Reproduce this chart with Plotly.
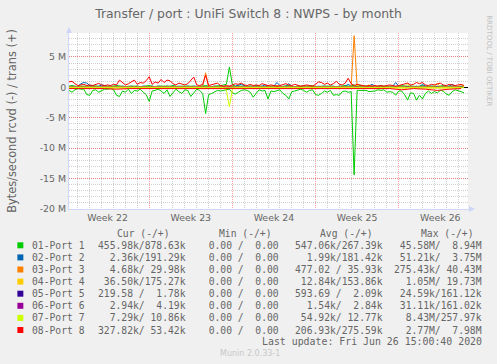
import plotly.graph_objects as go
import pandas as pd

# ---------------- data (values in millions of bytes/second) ----------------
ports = ["01-Port 1", "02-Port 2", "03-Port 3", "04-Port 4",
         "05-Port 5", "06-Port 6", "07-Port 7", "08-Port 8"]
colors = ["#00CC00", "#0066B3", "#FF8000", "#FFCC00",
          "#330099", "#990099", "#CCFF00", "#FF0000"]

# 6-hour samples
t6 = pd.date_range("2020-05-25 06:00", periods=134, freq="6h")
# daily samples (for the near-zero series)
td = pd.date_range("2020-05-25 06:00", periods=34, freq="1D")

p1_rcvd = [0.5, 0.8, 0.4, 0.2, 0.3, 0.3, 1.2, 1.3, 0.5, 0.4,
           0.8, 0.6, 0.3, 0.3, 0.2, 0.4, 1.3, 1.5, 0.6, 0.8,
           0.3, 1.0, 0.5, 0.6, 0.3, 0.8, 1.2, 2.3, 0.6, 0.5,
           0.3, 0.6, 1.0, 0.4, 1.5, 0.9, 0.3, 0.7, 1.0, 0.4,
           0.5, 1.5, 0.9, 0.3, 0.5, 1.0, 4.3, 1.2, 1.0, 0.8,
           0.5, 0.6, 0.5, 0.4, 0.3, 0.9, 1.1, 0.8, 0.5, 0.4,
           0.5, 0.8, 1.6, 1.0, 0.4, 0.6, 0.5, 1.9, 0.6, 0.7,
           0.6, 0.4, 1.0, 1.3, 1.9, 0.7, 0.6, 0.5, 0.3, 0.5,
           0.8, 0.5, 0.4, 1.2, 1.3, 1.0, 0.6, 0.8, 0.5, 1.3,
           1.2, 1.3, 0.7, 0.6, 0.8, 0.7, 14.4, 0.5, 0.5, 0.6,
           0.5, 0.7, 0.7, 0.6, 0.4, 0.5, 0.4, 0.8, 0.7, 0.8,
           1.3, 0.6, 0.6, 1.2, 2.1, 0.9, 1.0, 2.1, 1.3, 1.9,
           1.0, 0.6, 1.0, 0.7, 0.9, 0.5, 0.6, 1.1, 1.3, 0.7,
           0.4, 0.5, 0.7, 0.9]
p1_trans = [0.2, 0.3, 0.2, 0.1, 0.2, 0.2, 0.1, 0.2, 0.3, 0.2,
            0.2, 0.1, 0.2, 0.2, 0.1, 0.2, 0.3, 0.2, 0.2, 0.1,
            0.2, 0.2, 0.3, 0.2, 0.1, 0.2, 0.2, 0.3, 0.2, 0.1,
            0.2, 0.2, 0.1, 0.2, 0.2, 0.3, 0.2, 0.1, 0.2, 0.2,
            0.2, 0.3, 0.2, 0.1, 0.2, 0.2, 0.3, 0.2, 0.1, 0.2,
            0.2, 0.3, 0.4, 0.5, 3.35, 0.4, 0.2, 0.2, 0.1, 0.2,
            0.2, 0.1, 0.2, 0.3, 0.2, 0.2, 0.1, 0.2, 0.2, 0.3,
            0.2, 0.1, 0.2, 0.2, 0.3, 0.2, 0.1, 0.2, 0.2, 0.1,
            0.2, 0.3, 0.2, 0.2, 0.1, 0.2, 0.2, 0.3, 0.2, 0.2,
            0.1, 0.2, 0.2, 0.3, 0.2, 0.2, 0.4, 0.2, 0.3, 0.2,
            0.2, 0.3, 0.2, 0.1, 0.2, 0.3, 0.2, 0.2, 0.3, 0.2,
            0.1, 0.2, 0.3, 0.2, 0.2, 0.3, 0.2, 0.1, 0.2, 0.3,
            0.2, 0.2, 0.3, 0.2, 0.1, 0.2, 0.3, 0.2, 0.2, 0.3,
            0.2, 0.1, 0.2, 0.2]
p2_trans = [0.1, 0.2, 0.1, 0.2, 0.6, 0.8, 0.7, 0.3, 0.2, 0.1,
            0.2, 0.4, 0.3, 0.1, 0.2, 0.1, 0.2, 0.1, 0.2, 0.1,
            0.1, 0.2, 0.1, 0.2, 0.1, 0.2, 0.1, 0.1, 0.2, 0.1,
            0.2, 0.1, 0.1, 0.2, 0.1, 0.2, 0.1, 0.2, 0.1, 0.1,
            0.2, 0.1, 0.2, 0.1, 0.1, 0.2, 0.1, 0.2, 0.1, 0.2,
            0.1, 0.2, 0.1, 0.1, 0.2, 0.1, 0.2, 0.3, 0.5, 0.3,
            0.1, 0.2, 0.1, 0.2, 0.1, 0.2, 0.4, 0.2, 0.1, 0.2,
            0.8, 0.3, 0.1, 0.2, 0.6, 0.2, 0.1, 0.2, 0.1, 0.2,
            0.1, 0.2, 0.1, 0.1, 0.2, 0.1, 0.2, 0.1, 0.2, 0.1,
            0.1, 0.2, 0.1, 0.2, 0.5, 0.2, 0.1, 0.2, 0.1, 0.2,
            0.1, 0.2, 0.5, 0.2, 0.1, 0.2, 0.1, 0.2, 0.1, 0.2,
            0.8, 0.2, 0.1, 0.2, 0.1, 0.2, 0.1, 0.2, 0.1, 0.5,
            0.2, 0.1, 0.2, 0.1, 0.2, 0.1, 0.2, 0.1, 0.2, 0.5,
            0.2, 0.1, 0.2, 0.1]
p3_trans = [0.05, 0.05, 0.05, 0.05, 0.05, 0.05, 0.05, 0.05, 0.05, 0.05,
            0.05, 0.05, 0.05, 0.05, 0.05, 0.05, 0.05, 0.05, 0.05, 0.05,
            0.05, 0.05, 0.05, 0.05, 0.05, 0.05, 0.05, 0.05, 0.05, 0.05,
            0.05, 0.05, 0.05, 0.05, 0.05, 0.05, 0.05, 0.05, 0.05, 0.05,
            0.05, 0.05, 0.05, 0.05, 0.05, 0.1, 2.4, 0.1, 0.05, 0.05,
            0.05, 0.05, 0.05, 0.05, 0.05, 0.05, 0.05, 0.05, 0.05, 0.05,
            0.05, 0.05, 0.05, 0.05, 0.05, 0.05, 0.05, 0.05, 0.05, 0.05,
            0.05, 0.05, 0.05, 0.05, 0.05, 0.05, 0.05, 0.05, 0.05, 0.05,
            0.05, 0.05, 0.05, 0.05, 0.05, 0.05, 0.05, 0.05, 0.05, 0.05,
            0.05, 0.05, 0.05, 0.05, 0.05, 0.1, 8.5, 0.1, 0.05, 0.05,
            0.05, 0.05, 0.05, 0.05, 0.05, 0.05, 0.05, 0.05, 0.05, 0.05,
            0.05, 0.05, 0.05, 0.05, 0.05, 0.05, 0.05, 0.05, 0.05, 0.05,
            0.05, 0.05, 0.05, 0.05, 0.05, 0.05, 0.05, 0.05, 0.05, 0.05,
            0.05, 0.05, 0.05, 0.05]
p4_trans = [0.1, 0.1, 0.1, 0.1, 0.1, 0.1, 0.1, 0.1, 0.1, 0.1,
            0.1, 0.1, 0.1, 0.1, 0.1, 0.1, 0.1, 0.1, 0.1, 0.1,
            0.1, 0.1, 0.1, 0.1, 0.1, 0.1, 0.1, 0.1, 0.1, 0.1,
            0.1, 0.1, 0.1, 0.1, 0.1, 0.1, 0.1, 0.1, 0.1, 0.1,
            0.1, 0.1, 0.1, 0.1, 0.1, 0.1, 0.1, 0.1, 0.1, 0.1,
            0.1, 0.1, 0.1, 0.1, 0.1, 0.1, 0.1, 0.1, 0.1, 0.1,
            0.1, 0.1, 0.1, 0.1, 0.1, 0.1, 0.1, 0.1, 0.1, 0.1,
            0.3, 0.1, 0.1, 0.1, 0.1, 0.1, 0.1, 0.1, 0.1, 0.1,
            0.1, 0.1, 0.1, 0.1, 0.1, 0.1, 0.1, 0.1, 0.1, 0.1,
            0.1, 0.1, 0.1, 0.1, 0.1, 0.1, 0.1, 0.4, 0.1, 0.1,
            0.1, 0.4, 0.1, 0.1, 0.1, 0.1, 0.1, 0.1, 0.1, 0.1,
            0.1, 0.1, 0.1, 0.1, 0.6, 0.1, 0.1, 0.1, 0.1, 0.1,
            0.1, 0.1, 0.1, 0.1, 0.7, 0.1, 0.1, 0.1, 0.1, 0.1,
            0.1, 0.1, 0.5, 0.1]
p7_rcvd = [0.05, 0.05, 0.05, 0.05, 0.05, 0.05, 0.05, 0.05, 0.05, 0.05,
           0.05, 0.05, 0.05, 0.05, 0.05, 0.05, 0.05, 0.05, 0.05, 0.05,
           0.05, 0.05, 0.05, 0.05, 0.05, 0.05, 0.05, 0.05, 0.05, 0.05,
           0.05, 0.05, 0.05, 0.05, 0.05, 0.05, 0.05, 0.05, 0.05, 0.05,
           0.05, 0.05, 0.05, 0.05, 0.05, 0.05, 0.05, 0.05, 0.05, 0.05,
           0.05, 0.05, 0.05, 0.5, 3.2, 0.3, 0.05, 0.05, 0.05, 0.05,
           0.05, 0.05, 0.05, 0.05, 0.05, 0.05, 0.05, 0.05, 0.05, 0.05,
           0.05, 0.05, 0.05, 0.05, 0.05, 0.05, 0.05, 0.05, 0.05, 0.05,
           0.05, 0.05, 0.05, 0.05, 0.05, 0.05, 0.05, 0.05, 0.05, 0.05,
           0.05, 0.05, 0.05, 0.05, 0.05, 0.05, 0.05, 0.05, 0.05, 0.05,
           0.05, 0.05, 0.05, 0.05, 0.05, 0.05, 0.05, 0.05, 0.05, 0.05,
           0.05, 0.05, 0.05, 0.05, 0.05, 0.05, 0.05, 0.05, 0.05, 0.05,
           0.05, 0.05, 0.05, 0.05, 0.05, 0.05, 0.05, 0.05, 0.05, 0.05,
           0.05, 0.05, 0.05, 0.05]
p8_trans = [0.9, 1.0, 0.6, 0.3, 0.4, 0.5, 0.3, 0.4, 0.3, 0.5,
            0.65, 0.4, 0.3, 0.4, 0.3, 0.5, 0.4, 1.2, 0.8, 0.4,
            0.6, 0.9, 1.2, 0.5, 0.8, 0.7, 1.1, 1.75, 0.5, 0.9,
            0.7, 1.3, 0.8, 1.2, 1.1, 0.6, 0.4, 0.7, 0.5, 0.4,
            0.6, 1.2, 1.7, 0.4, 0.3, 0.5, 2.0, 0.3, 0.4, 0.6,
            0.7, 0.3, 0.2, 0.3, 0.2, 0.4, 0.6, 0.5, 0.7, 0.4,
            0.3, 0.5, 0.3, 0.4, 0.3, 0.6, 0.5, 0.3, 0.4, 0.3,
            0.2, 0.3, 0.5, 0.6, 0.4, 0.3, 0.5, 0.3, 0.2, 0.3,
            0.4, 0.3, 0.2, 0.5, 0.9, 0.8, 0.5, 0.7, 0.4, 0.6,
            1.0, 0.5, 0.4, 0.7, 1.5, 0.6, 0.3, 0.5, 0.4, 0.3,
            0.2, 0.3, 0.2, 0.3, 0.2, 0.3, 0.2, 0.3, 0.4, 0.3,
            0.2, 0.3, 0.4, 0.5, 0.7, 0.4, 0.5, 0.8, 0.6, 0.8,
            0.4, 0.3, 0.5, 0.4, 0.6, 0.7, 0.4, 0.3, 0.5, 0.4,
            0.3, 0.4, 0.5, 0.3]

# daily near-zero series
p2_rcvd = [0.02, 0.03, 0.02, 0.02, 0.03, 0.02, 0.02, 0.03, 0.02, 0.02,
           0.03, 0.02, 0.02, 0.03, 0.02, 0.02, 0.03, 0.02, 0.02, 0.03,
           0.02, 0.02, 0.03, 0.02, 0.02, 0.03, 0.02, 0.02, 0.03, 0.02,
           0.02, 0.03, 0.02, 0.02]
p3_rcvd = [0.01, 0.01, 0.01, 0.01, 0.01, 0.01, 0.01, 0.01, 0.01, 0.01,
           0.01, 0.01, 0.01, 0.01, 0.01, 0.01, 0.01, 0.01, 0.01, 0.01,
           0.01, 0.01, 0.01, 0.01, 0.01, 0.01, 0.01, 0.01, 0.01, 0.01,
           0.01, 0.01, 0.01, 0.01]
p4_rcvd = [0.12, 0.12, 0.13, 0.12, 0.12, 0.13, 0.12, 0.12, 0.13, 0.12,
           0.12, 0.13, 0.12, 0.12, 0.13, 0.12, 0.12, 0.13, 0.12, 0.12,
           0.13, 0.12, 0.12, 0.13, 0.12, 0.12, 0.13, 0.12, 0.12, 0.13,
           0.12, 0.12, 0.13, 0.12]
p5_rcvd = [0.0, 0.0, 0.0, 0.0, 0.0, 0.0, 0.0, 0.0, 0.0, 0.0,
           0.0, 0.0, 0.0, 0.0, 0.0, 0.0, 0.0, 0.0, 0.0, 0.0,
           0.0, 0.0, 0.0, 0.0, 0.0, 0.0, 0.0, 0.0, 0.0, 0.0,
           0.0, 0.0, 0.0, 0.0]
p5_trans = [0.0, 0.0, 0.0, 0.0, 0.0, 0.0, 0.0, 0.0, 0.0, 0.0,
            0.0, 0.0, 0.0, 0.0, 0.0, 0.0, 0.0, 0.0, 0.0, 0.0,
            0.0, 0.0, 0.0, 0.0, 0.0, 0.0, 0.0, 0.0, 0.0, 0.0,
            0.0, 0.0, 0.0, 0.0]
p6_rcvd = [0.0, 0.0, 0.0, 0.0, 0.0, 0.0, 0.0, 0.0, 0.0, 0.0,
           0.0, 0.0, 0.0, 0.0, 0.0, 0.0, 0.0, 0.0, 0.0, 0.0,
           0.0, 0.0, 0.0, 0.0, 0.0, 0.0, 0.0, 0.0, 0.0, 0.0,
           0.0, 0.0, 0.0, 0.0]
p6_trans = [0.0, 0.0, 0.0, 0.0, 0.0, 0.0, 0.0, 0.0, 0.0, 0.0,
            0.0, 0.0, 0.0, 0.0, 0.0, 0.0, 0.0, 0.0, 0.0, 0.0,
            0.0, 0.0, 0.0, 0.0, 0.0, 0.0, 0.0, 0.0, 0.0, 0.0,
            0.0, 0.0, 0.0, 0.0]
p7_trans = [0.01, 0.01, 0.01, 0.01, 0.01, 0.01, 0.01, 0.01, 0.01, 0.01,
            0.01, 0.01, 0.01, 0.01, 0.01, 0.01, 0.01, 0.01, 0.01, 0.01,
            0.01, 0.01, 0.01, 0.01, 0.01, 0.01, 0.01, 0.01, 0.01, 0.01,
            0.01, 0.01, 0.01, 0.01]
p8_rcvd = [0.2, 0.25, 0.2, 0.2, 0.3, 0.2, 0.2, 0.25, 0.2, 0.2,
           0.2, 0.25, 0.2, 0.2, 0.3, 0.2, 0.2, 0.2, 0.25, 0.2,
           0.2, 0.2, 0.25, 0.2, 0.2, 0.2, 0.3, 0.2, 0.4, 0.2,
           0.3, 0.5, 0.3, 0.2]

series = [
    (t6, p1_rcvd, t6, p1_trans),
    (td, p2_rcvd, t6, p2_trans),
    (td, p3_rcvd, t6, p3_trans),
    (td, p4_rcvd, t6, p4_trans),
    (td, p5_rcvd, td, p5_trans),
    (td, p6_rcvd, td, p6_trans),
    (t6, p7_rcvd, td, p7_trans),
    (td, p8_rcvd, t6, p8_trans),
]

# legend table text
col_heads = ["Cur (-/+)", "Min (-/+)", "Avg (-/+)", "Max (-/+)"]
cur_vals = ["455.98k/878.63k", "  2.36k/191.29k", "  4.68k/ 29.98k", " 36.50k/175.27k",
            "219.58 /  1.78k", "  2.94k/  4.19k", "  7.29k/ 10.86k", "327.82k/ 53.42k"]
min_vals = ["  0.00 /  0.00"] * 8
avg_vals = ["547.06k/267.39k", "  1.99k/181.42k", "477.02 / 35.93k", " 12.84k/153.86k",
            "593.69 /  2.09k", "  1.54k/  2.84k", " 54.92k/ 12.77k", "206.93k/275.59k"]
max_vals = [" 45.58M/  8.94M", " 51.21k/  3.75M", "275.43k/ 40.43M", "  1.05M/ 19.73M",
            " 24.59k/161.12k", " 31.11k/161.02k", "  8.43M/257.97k", "  2.77M/  7.98M"]

y_tickvals = [-20, -15, -10, -5, 0, 5]
y_ticktext = ["-20 M", "-15 M", "-10 M", "-5 M", "0", "5 M"]

# ---------------- layout geometry ----------------
W, H = 497, 364
L, R, T, B = 66, 29, 33, 155
PW, PH = W - L - R, H - T - B


def px(x):
    return (x - L) / PW


def py(y):
    return (H - B - y) / PH


FONT = "DejaVu Sans"
MONO = "DejaVu Sans Mono"
TXT = "#666666"

fig = go.Figure()
for i, (tr, vr, tt, vt) in enumerate(series):
    fig.add_trace(go.Scatter(x=tr, y=[-v for v in vr], mode="lines",
                             line=dict(color=colors[i], width=1),
                             hoverinfo="skip", showlegend=False))
    fig.add_trace(go.Scatter(x=tt, y=vt, mode="lines",
                             line=dict(color=colors[i], width=1),
                             name=ports[i], hoverinfo="skip", showlegend=False))

grid_minor = "rgba(128,128,128,0.37)"
grid_major = "rgba(255,0,0,0.37)"
axis_col = "#CFD6F8"

fig.update_layout(
    width=W, height=H, autosize=False,
    margin=dict(l=L, r=R, t=T, b=B, pad=0),
    paper_bgcolor="#F0F0F0", plot_bgcolor="#FFFFFF",
    showlegend=False,
    title=dict(text="Transfer / port : UniFi Switch 8 : NWPS - by month",
               x=0.5, xanchor="center", y=1 - 14 / H, yanchor="middle",
               font=dict(family=FONT, size=12.4, color=TXT)),
    xaxis=dict(
        type="date",
        range=["2020-05-25 06:00", "2020-06-27 20:00"],
        tick0="2020-05-25", dtick=7 * 86400000,
        ticklabelmode="period", tickformat="Week %V",
        ticks="", showline=True, linecolor=axis_col, linewidth=1,
        showgrid=True, gridcolor=grid_major, griddash="1px,1px", gridwidth=1,
        minor=dict(tick0="2020-05-25", dtick=86400000, showgrid=True,
                   gridcolor=grid_minor, griddash="1px,1px", gridwidth=1, ticks=""),
        tickfont=dict(family=FONT, size=9.4, color=TXT),
        zeroline=False, fixedrange=True,
    ),
    yaxis=dict(
        range=[-20, 8.94],
        tickmode="array", tickvals=y_tickvals, ticktext=y_ticktext,
        ticks="", showline=True, linecolor=axis_col, linewidth=1,
        showgrid=True, gridcolor=grid_major, griddash="1px,1px", gridwidth=1,
        minor=dict(tickmode="linear", tick0=0, dtick=1, showgrid=True,
                   gridcolor=grid_minor, griddash="1px,1px", gridwidth=1, ticks=""),
        zeroline=True, zerolinecolor="#000000", zerolinewidth=1,
        tickfont=dict(family=FONT, size=9.4, color=TXT),
        title=dict(text="Bytes/second rcvd (-) / trans (+)",
                   font=dict(family=FONT, size=11.4, color=TXT), standoff=20),
        fixedrange=True,
    ),
)

ann = []
shapes = []

# watermark
ann.append(dict(text="RRDTOOL / TOBI OETIKER", x=px(489), y=py(61), xref="paper", yref="paper",
                showarrow=False, textangle=90, xanchor="center", yanchor="middle",
                font=dict(family=FONT, size=7.1, color="#C0C0C0")))

# column headers
head_right = [169.5, 273, 374.5, 476.5]
for h, xr in zip(col_heads, head_right):
    ann.append(dict(text=h.replace(" ", "\u00a0"), x=px(xr), y=py(233.3), xref="paper", yref="paper",
                    showarrow=False, xanchor="right", yanchor="middle",
                    font=dict(family=MONO, size=9.7, color=TXT)))

row_y0, row_dy = 245.3, 12.1
col_right = [185.8, 279.6, 384.6, 483.8]
for i in range(8):
    yy = row_y0 + i * row_dy
    shapes.append(dict(type="rect", xref="paper", yref="paper",
                       x0=px(14), x1=px(20), y0=py(yy + 3), y1=py(yy - 3),
                       fillcolor=colors[i], line=dict(width=0)))
    ann.append(dict(text=ports[i].replace(" ", "\u00a0"), x=px(26.5), y=py(yy), xref="paper", yref="paper",
                    showarrow=False, xanchor="left", yanchor="middle",
                    font=dict(family=MONO, size=9.7, color=TXT)))
    for vals, xr in zip([cur_vals, min_vals, avg_vals, max_vals], col_right):
        ann.append(dict(text=vals[i].replace(" ", "\u00a0"), x=px(xr), y=py(yy), xref="paper", yref="paper",
                        showarrow=False, xanchor="right", yanchor="middle",
                        font=dict(family=MONO, size=9.7, color=TXT)))

ann.append(dict(text="Last update: Fri Jun 26 15:00:40 2020".replace(" ", "\u00a0"),
                x=px(483.8), y=py(341.7), xref="paper", yref="paper",
                showarrow=False, xanchor="right", yanchor="middle",
                font=dict(family=MONO, size=9.9, color=TXT)))
ann.append(dict(text="Munin 2.0.33-1", x=px(248.5), xref="paper", y=py(353.3), yref="paper",
                showarrow=False, xanchor="center", yanchor="middle",
                font=dict(family=FONT, size=8, color="#C8C8C8")))

# axis arrows
shapes.append(dict(type="path", xref="paper", yref="paper",
                   path=f"M {px(63)} {py(33)} L {px(69)} {py(33)} L {px(66)} {py(27)} Z",
                   fillcolor=axis_col, line=dict(width=0)))
shapes.append(dict(type="line", xref="paper", yref="paper",
                   x0=px(468), x1=px(470), y0=py(209), y1=py(209),
                   line=dict(color=axis_col, width=1)))
shapes.append(dict(type="path", xref="paper", yref="paper",
                   path=f"M {px(469)} {py(206)} L {px(469)} {py(212)} L {px(475)} {py(209)} Z",
                   fillcolor=axis_col, line=dict(width=0)))

fig.update_layout(annotations=ann, shapes=shapes)
fig.write_html("out.html", config={"displayModeBar": False, "staticPlot": True},
               post_script="document.body.style.margin='0px';document.body.style.padding='0px';")
